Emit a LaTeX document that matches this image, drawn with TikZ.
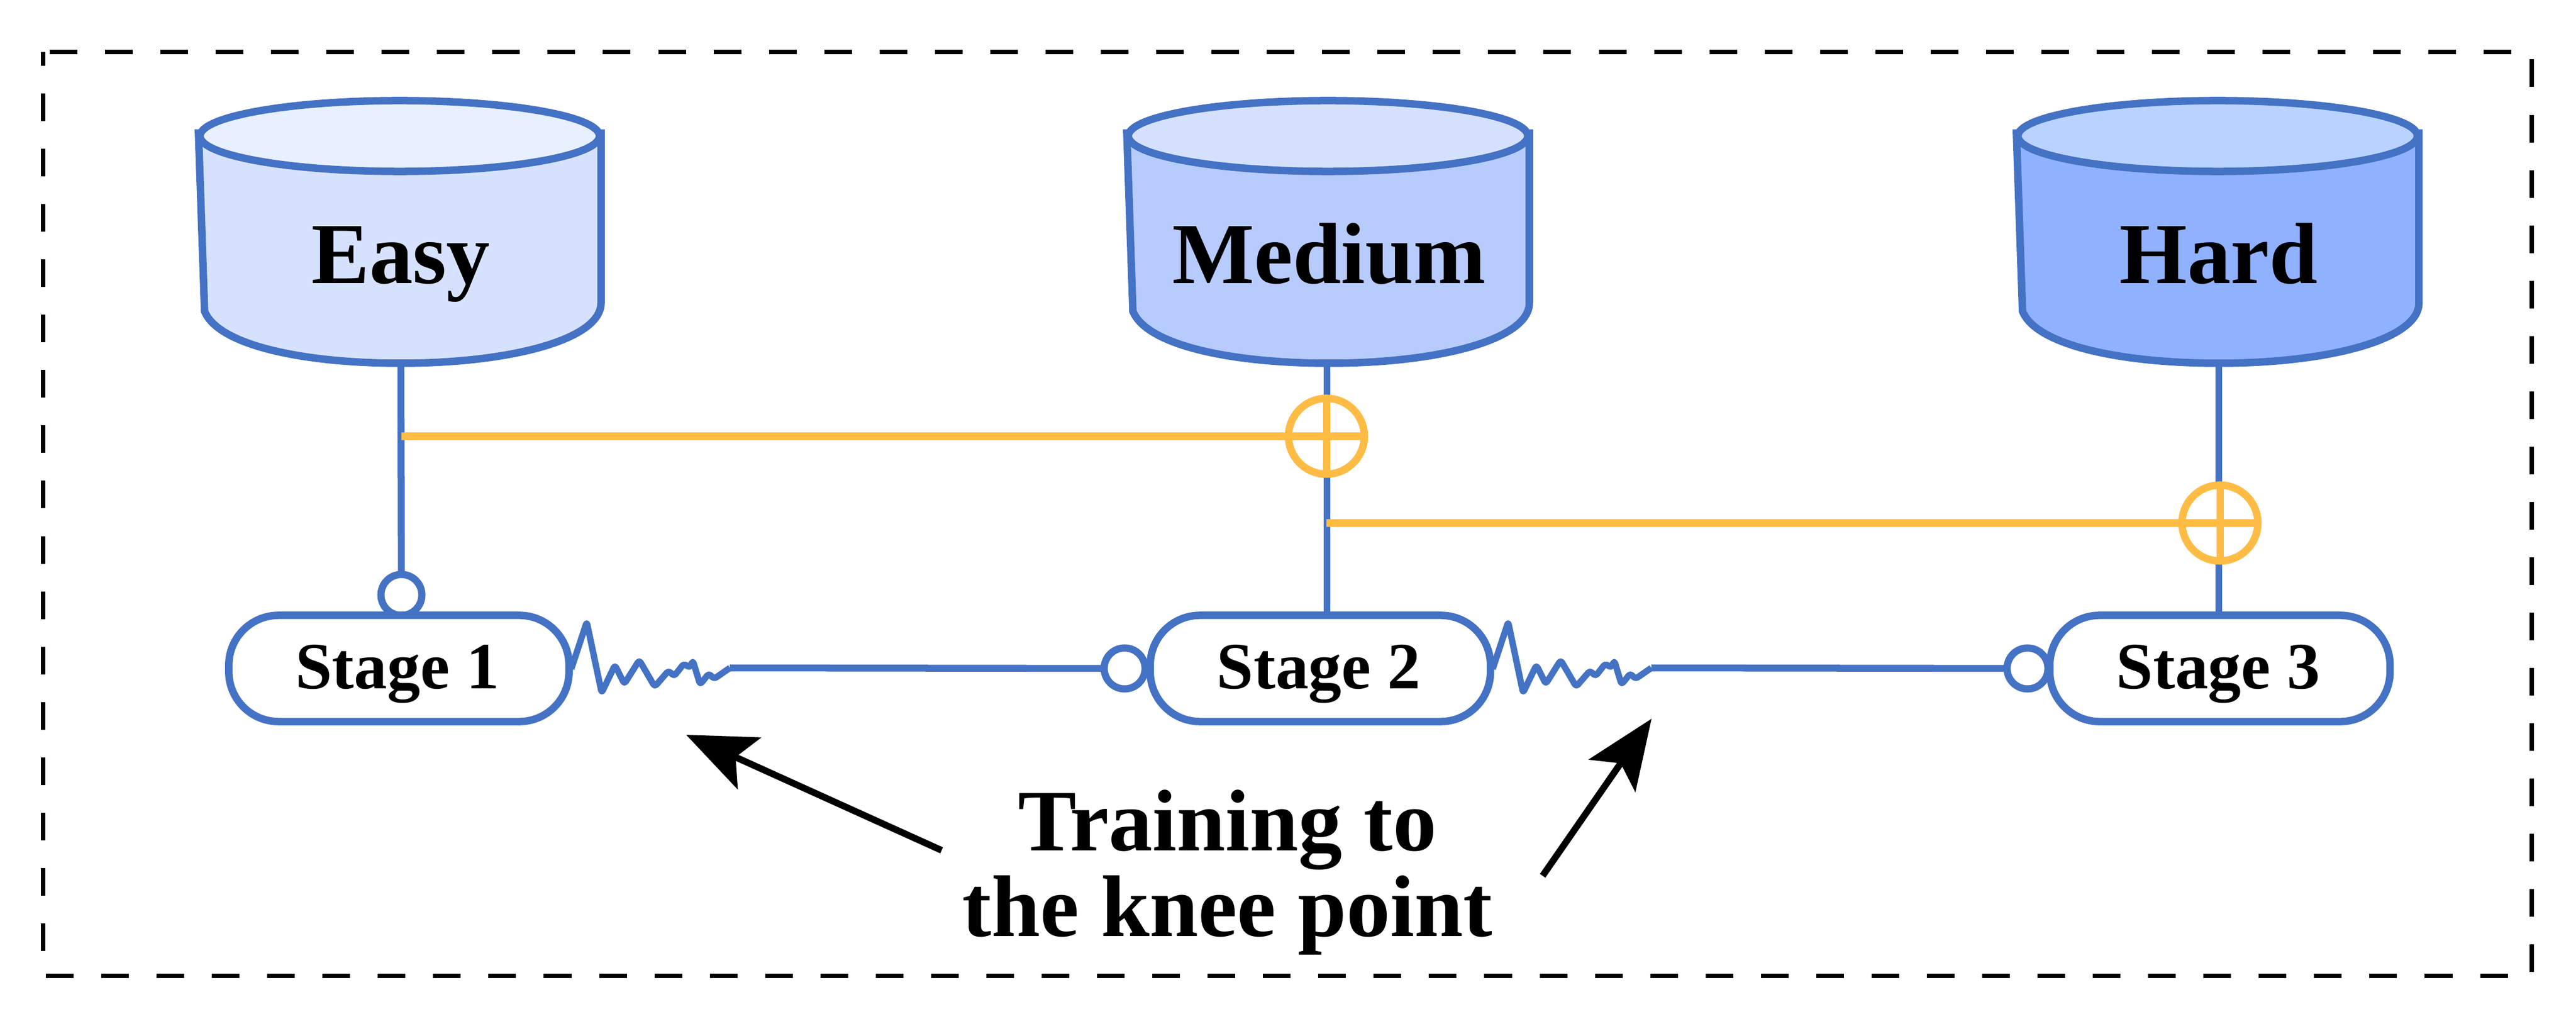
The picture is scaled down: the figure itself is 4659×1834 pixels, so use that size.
\documentclass[tikz,border=0pt]{standalone}
\usepackage{fontspec}
\setmainfont{Liberation Serif}
\usepackage{xcolor}
\definecolor{line-blue}{RGB}{68,114,196}
\definecolor{knee-orange}{RGB}{255,188,69}
\definecolor{easy-body}{RGB}{214,226,253}
\definecolor{easy-top}{RGB}{232,240,255}
\definecolor{medium-body}{RGB}{183,203,253}
\definecolor{medium-top}{RGB}{213,225,252}
\definecolor{hard-body}{RGB}{144,177,254}
\definecolor{hard-top}{RGB}{186,210,255}
\usetikzlibrary{arrows.meta}
\tikzset{
	blueline/.style={line-blue,line width=.125cm},
	orangeline/.style={knee-orange,line width=.13cm},
	stagebox/.style={draw=line-blue,fill=white,line width=.135cm,rectangle,rounded corners=.9cm,
		minimum width=6.15cm,minimum height=1.92cm,inner sep=0pt,outer sep=0pt,
		text height=.92cm,text depth=.2cm,font=\fontsize{34}{36}\selectfont\bfseries,
		execute at end node=\hspace{.06cm}},
	ringnode/.style={draw=line-blue,fill=white,line width=.13cm,circle,minimum size=.74cm,inner sep=0pt,outer sep=0pt},
	plusnode/.style={draw=knee-orange,fill=white,line width=.135cm,circle,minimum size=1.37cm,inner sep=0pt,outer sep=0pt,
		path picture={
			\draw[orangeline] (path picture bounding box.north) -- (path picture bounding box.south);
			\draw[orangeline] (path picture bounding box.west) -- (path picture bounding box.east);
		}},
	drumtext/.style={anchor=base,inner sep=0pt,font=\fontsize{44.7}{50}\selectfont\bfseries},
	notearrow/.style={line width=.12cm,-{Stealth[length=1.25cm,width=1.02cm,inset=.27cm]}},
}
% name, shift, body colour, top colour, text
\newcommand{\drum}[5]{
	\begin{scope}[xshift=#2]
		\draw[blueline,line width=.135cm,fill=#3] (359,241) -- (370,563)
			.. controls (395,625) and (550,657) .. (725,657)
			.. controls (920,657) and (1087,615) .. (1087,548) -- (1087,241) -- cycle;
		\draw[blueline,line width=.135cm,fill=#4] (723,246) ellipse [x radius=3.61cm,y radius=.64cm];
		\node[drumtext] (#1) at (725,513) {#5};
	\end{scope}
}
% one wave behind a stage box, leaves the coordinate #2 at its end
\newcommand{\kneewave}[2]{
	\draw[blueline,line width=.115cm,line join=round,rounded corners=.05cm,shift={(#1.east)}]
		(4,1) -- (32,-84) -- (59,44) -- (83,-6) -- (100,28) -- (127,-15) -- (155,33) -- (180,4)
		-- (190,14) -- (208,-9) -- (218,-1) -- (224,-14) -- (237,29) -- (253,9) -- (262,19) -- (291,-1)
		coordinate (#2);
}

\begin{document}
\begin{tikzpicture}[x=.01cm,y=-.01cm]
	\useasboundingbox (0,0) rectangle (4659,1834);

	\draw[line width=.08cm,dash pattern=on .5cm off .5cm,dash phase=.25cm] (78,94) rectangle (4579,1765);

	\drum{Easy}{0cm}{easy-body}{easy-top}{Easy}
	\drum{Medium}{16.78cm}{medium-body}{medium-top}{Medium}
	\drum{Hard}{32.86cm}{hard-body}{hard-top}{Hard}

	\coordinate (EasyB) at (725,657);
	\coordinate (MediumB) at (2400,657);
	\coordinate (HardB) at (4013,657);

	\node[ringnode] (R1) at (726,1076) {};
	\node[ringnode] (R2) at (2034,1209) {};
	\node[ringnode] (R3) at (3667,1209) {};

	\node[stagebox] (S1) at (721.5,1209) {Stage 1};
	\node[stagebox] (S2) at (2388,1209) {Stage 2};
	\node[stagebox] (S3) at (4015,1209) {Stage 3};

	\draw[blueline] (EasyB) -- (R1);
	\draw[blueline] (MediumB) -- (MediumB |- S2.north);
	\draw[blueline] (HardB) -- (HardB |- S3.north);

	\kneewave{S1}{K1}
	\kneewave{S2}{K2}
	\draw[blueline] (K1) -- (R2);
	\draw[blueline] (K2) -- (R3);

	\coordinate (T1) at (726,789);
	\coordinate (T2) at (2399,946);
	\node[plusnode] (P1) at (2399,789) {};
	\node[plusnode] (P2) at (4015,946) {};
	\draw[orangeline] (T1) -- (P1);
	\draw[orangeline] (T2) -- (P2);

	\node[align=center,inner sep=0pt,font=\fontsize{45}{44.2}\selectfont\bfseries] (note) at (2220,1578)
		{Training to\\the knee point};
	\coordinate (A1) at (1703,1538);
	\coordinate (B1) at (1241,1329);
	\coordinate (A2) at (2790,1584);
	\coordinate (B2) at (2987,1300);
	\draw[notearrow] (A1) -- (B1);
	\draw[notearrow] (A2) -- (B2);
\end{tikzpicture}
\end{document}
